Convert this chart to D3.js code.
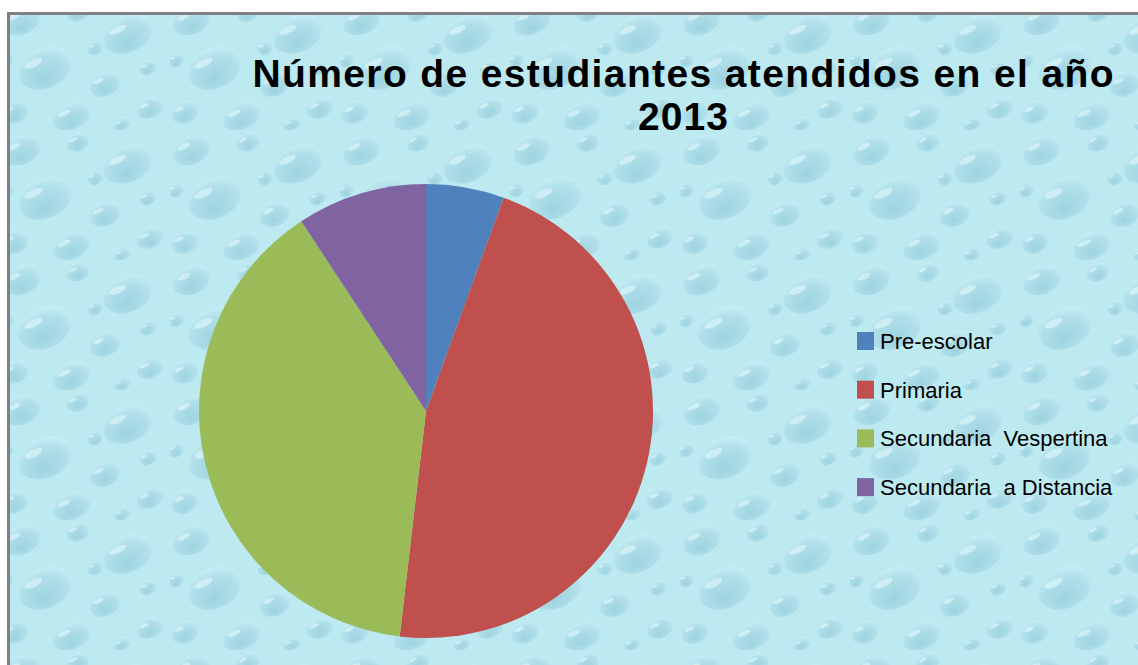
<!DOCTYPE html>
<html>
<head>
<meta charset="utf-8">
<script src="https://cdn.jsdelivr.net/npm/d3@7"></script>
<style>
  body { margin: 0; background: #fff; }
  svg { display: block; }
</style>
</head>
<body>
<main></main>
<script>
// data
var categories = ["Pre-escolar", "Primaria", "Secundaria  Vespertina", "Secundaria  a Distancia"];
var values = [30, 250, 210, 50];
var colors = ["#4F81BD", "#C0504D", "#9BBB59", "#8064A2"];
var titleLines = ["Número de estudiantes atendidos en el año", "2013"];

var width = 1138, height = 665;

var svg = d3.select("main")
  .append("svg")
  .attr("width", width)
  .attr("height", height);

var defs = svg.append("defs");

// water drop texture
var drop = defs.append("radialGradient")
  .attr("id", "drop")
  .attr("cx", "45%").attr("cy", "60%").attr("r", "60%")
  .attr("fx", "40%").attr("fy", "75%");
drop.append("stop").attr("offset", "0%").attr("stop-color", "#93cddc");
drop.append("stop").attr("offset", "70%").attr("stop-color", "#acdde8");
drop.append("stop").attr("offset", "100%").attr("stop-color", "#c8eff5");

var tile = defs.append("pattern")
  .attr("id", "water")
  .attr("patternUnits", "userSpaceOnUse")
  .attr("width", 170).attr("height", 130);
tile.append("rect").attr("width", 170).attr("height", 130).attr("fill", "#bde9f1");

var dropSpots = [
  [22, 20, 20, 14], [78, 12, 12, 9], [128, 34, 26, 18], [45, 68, 28, 20],
  [105, 84, 16, 12], [150, 108, 14, 10], [15, 112, 14, 11], [72, 116, 20, 13],
  [148, 68, 9, 7], [95, 48, 8, 7], [6, 60, 8, 7], [122, 124, 9, 6]
];
var g0 = tile.selectAll("g").data(dropSpots).enter().append("g")
  .attr("transform", function(d) { return "translate(" + d[0] + "," + d[1] + ") rotate(-25)"; })
  .attr("opacity", 0.75);
g0.append("ellipse")
  .attr("rx", function(d) { return d[2]; })
  .attr("ry", function(d) { return d[3]; })
  .attr("fill", "url(#drop)");
g0.append("ellipse")
  .attr("cx", function(d) { return -d[2] * 0.3; })
  .attr("cy", function(d) { return -d[3] * 0.45; })
  .attr("rx", function(d) { return d[2] * 0.35; })
  .attr("ry", function(d) { return d[3] * 0.18; })
  .attr("fill", "#e6fafd")
  .attr("opacity", 0.7);

// chart area + frame
svg.append("rect")
  .attr("x", 8.5).attr("y", 13.5)
  .attr("width", width).attr("height", height)
  .attr("fill", "url(#water)")
  .attr("stroke", "#808080")
  .attr("stroke-width", 3);

// title
var title = svg.append("text")
  .attr("text-anchor", "middle")
  .attr("font-family", "'Liberation Sans', Arial, sans-serif")
  .attr("font-weight", "bold")
  .attr("font-size", 39)
  .attr("fill", "#000");
var titleWidths = [861, 90];
title.selectAll("tspan")
  .data(titleLines)
  .enter()
  .append("tspan")
  .attr("x", 683)
  .attr("y", function(d, i) { return 87 + i * 43; })
  .attr("textLength", function(d, i) { return titleWidths[i]; })
  .attr("lengthAdjust", "spacing")
  .text(function(d) { return d; });

// pie
var pie = d3.pie().sort(null)(values);
var arc = d3.arc().innerRadius(0).outerRadius(227);

svg.append("g")
  .attr("transform", "translate(426,411)")
  .selectAll("path")
  .data(pie)
  .enter()
  .append("path")
  .attr("d", arc)
  .attr("fill", function(d, i) { return colors[i]; });

// legend
var legend = svg.append("g")
  .attr("id", "legend")
  .attr("transform", "translate(857,332)");

var item = legend.selectAll("g")
  .data(categories)
  .enter()
  .append("g")
  .attr("transform", function(d, i) { return "translate(0," + (i * 48.7) + ")"; });

item.append("rect")
  .attr("width", 17)
  .attr("height", 18)
  .attr("fill", function(d, i) { return colors[i]; });

item.append("text")
  .attr("x", 23)
  .attr("y", 17)
  .attr("font-family", "'Liberation Sans', Arial, sans-serif")
  .attr("font-size", 22)
  .attr("fill", "#000")
  .attr("xml:space", "preserve")
  .style("white-space", "pre")
  .text(function(d) { return d; });
</script>
</body>
</html>
